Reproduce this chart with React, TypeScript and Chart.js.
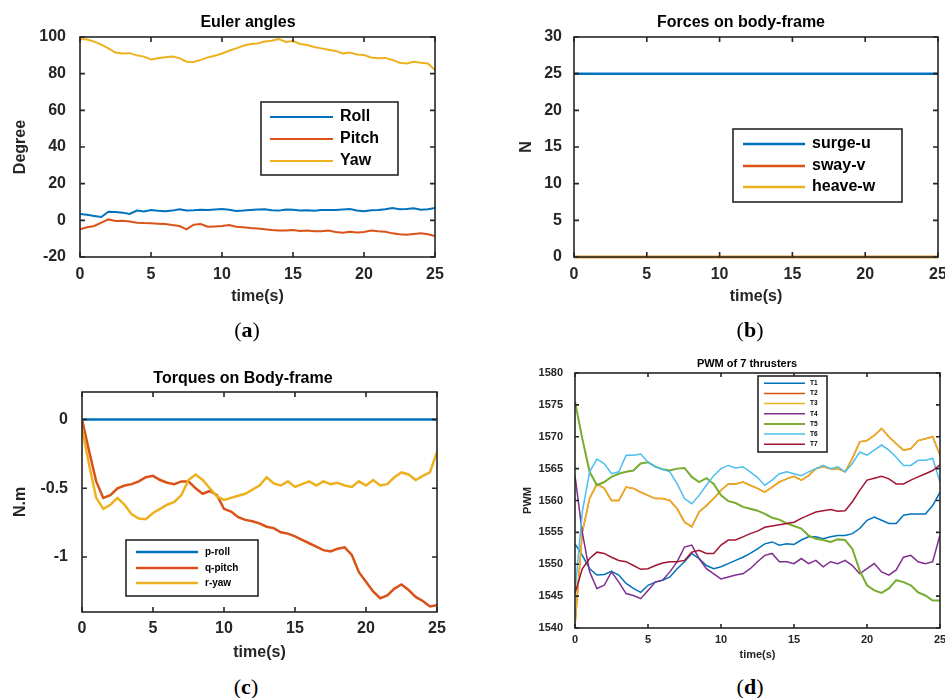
import React, { useEffect, useRef } from "react";
import { Chart, registerables } from "chart.js";
Chart.register(...registerables);

// ---------- data ----------
const TIME = [0, 0.5, 1, 1.5, 2, 2.5, 3, 3.5, 4, 4.5, 5, 5.5, 6, 6.5, 7, 7.5, 8, 8.5, 9, 9.5, 10, 10.5, 11, 11.5, 12, 12.5, 13, 13.5, 14, 14.5, 15, 15.5, 16, 16.5, 17, 17.5, 18, 18.5, 19, 19.5, 20, 20.5, 21, 21.5, 22, 22.5, 23, 23.5, 24, 24.5, 25];
const TIME_ENDS = [0, 25];
const X_TICKS = [0, 5, 10, 15, 20, 25];

// (a) Euler angles
const ROLL = [3.5, 3.0, 2.4, 1.8, 4.7, 4.5, 4.2, 3.5, 5.3, 4.8, 5.6, 5.2, 4.9, 5.3, 6.0, 5.4, 5.5, 5.8, 5.6, 5.9, 6.2, 5.8, 5.1, 5.3, 5.6, 5.9, 6.0, 5.5, 5.3, 5.9, 5.8, 5.4, 5.5, 5.2, 5.6, 5.7, 5.6, 5.9, 6.2, 5.4, 4.9, 5.5, 5.6, 6.1, 6.7, 6.0, 6.2, 6.6, 5.8, 6.0, 6.7];
const PITCH = [-4.9, -3.8, -3.1, -1.3, 0.5, -0.4, -0.2, -0.6, -1.3, -1.5, -1.6, -1.8, -2.0, -2.6, -3.1, -4.9, -2.4, -2.0, -3.5, -3.3, -3.1, -2.6, -3.5, -3.8, -4.2, -4.5, -4.9, -5.3, -5.6, -5.5, -5.3, -5.8, -5.6, -5.9, -6.0, -5.6, -6.4, -6.8, -6.2, -6.6, -6.4, -5.6, -6.0, -6.2, -7.1, -7.6, -7.8, -7.4, -7.1, -7.6, -8.5];
const YAW = [98.9, 98.6, 97.5, 95.8, 93.8, 91.5, 91.0, 91.2, 90.0, 89.3, 87.8, 88.4, 88.9, 89.3, 88.5, 86.5, 86.4, 87.5, 88.9, 89.8, 91.0, 92.5, 93.8, 95.2, 96.2, 96.5, 97.5, 98.0, 98.9, 97.3, 97.8, 96.2, 95.6, 94.5, 93.8, 93.0, 92.4, 91.0, 91.5, 90.5, 90.2, 88.8, 88.4, 88.6, 87.5, 86.0, 85.6, 86.5, 86.0, 85.6, 82.0];
const Y_TICKS_A = [-20, 0, 20, 40, 60, 80, 100];

// (b) Forces
const SURGE_U = [25, 25];
const SWAY_V = [0, 0];
const HEAVE_W = [0, 0];
const Y_TICKS_B = [0, 5, 10, 15, 20, 25, 30];

// (c) Torques
const P_ROLL = [0, 0];
const Q_PITCH = [0, -0.23, -0.45, -0.57, -0.55, -0.5, -0.48, -0.47, -0.45, -0.42, -0.41, -0.44, -0.46, -0.47, -0.45, -0.45, -0.5, -0.54, -0.52, -0.55, -0.65, -0.67, -0.71, -0.73, -0.74, -0.755, -0.78, -0.79, -0.82, -0.83, -0.85, -0.875, -0.9, -0.925, -0.95, -0.96, -0.94, -0.93, -0.985, -1.11, -1.18, -1.25, -1.3, -1.28, -1.23, -1.2, -1.24, -1.29, -1.32, -1.36, -1.35];
const R_YAW = [-0.065, -0.33, -0.57, -0.65, -0.62, -0.57, -0.62, -0.69, -0.72, -0.725, -0.68, -0.65, -0.62, -0.6, -0.55, -0.44, -0.4, -0.44, -0.5, -0.56, -0.585, -0.57, -0.555, -0.54, -0.51, -0.48, -0.42, -0.465, -0.48, -0.45, -0.49, -0.47, -0.45, -0.48, -0.45, -0.47, -0.46, -0.48, -0.49, -0.45, -0.48, -0.44, -0.48, -0.47, -0.42, -0.385, -0.4, -0.44, -0.41, -0.385, -0.235];
const Y_TICKS_C = [-1, -0.5, 0];

// (d) PWM
const T1 = [1553.2, 1551.4, 1549.3, 1548.3, 1548.4, 1548.9, 1548.3, 1547.0, 1546.2, 1545.6, 1546.7, 1547.2, 1547.5, 1548.0, 1549.3, 1550.4, 1551.7, 1550.9, 1549.8, 1549.3, 1549.6, 1550.1, 1550.6, 1551.1, 1551.7, 1552.4, 1553.2, 1553.5, 1553.0, 1553.2, 1553.1, 1553.8, 1554.3, 1554.3, 1554.0, 1554.3, 1554.5, 1554.5, 1554.8, 1555.6, 1556.9, 1557.4, 1556.9, 1556.4, 1556.4, 1557.7, 1557.9, 1557.9, 1557.9, 1559.2, 1561.3];
const T3 = [1540.4, 1555.0, 1560.3, 1562.6, 1561.9, 1560.0, 1560.0, 1562.1, 1561.9, 1561.3, 1560.8, 1560.3, 1560.3, 1560.0, 1558.7, 1556.6, 1555.9, 1558.2, 1559.2, 1560.3, 1561.6, 1562.6, 1562.6, 1562.9, 1562.4, 1561.9, 1561.3, 1562.1, 1562.9, 1563.4, 1563.8, 1563.2, 1563.9, 1565.0, 1565.3, 1565.0, 1565.0, 1564.5, 1566.6, 1569.2, 1569.4, 1570.2, 1571.3, 1570.0, 1568.9, 1567.9, 1568.1, 1569.4, 1569.7, 1570.0, 1567.1];
const T2 = [1540.4, 1555.0, 1560.3, 1562.6, 1561.9, 1560.0, 1560.0, 1562.1, 1561.9, 1561.3, 1560.8, 1560.3, 1560.3, 1560.0, 1558.7, 1556.6, 1555.9, 1558.2, 1559.2, 1560.3, 1561.6, 1562.6, 1562.6, 1562.9, 1562.4, 1561.9, 1561.3, 1562.1, 1562.9, 1563.4, 1563.8, 1563.2, 1563.9, 1565.0, 1565.3, 1565.0, 1565.0, 1564.5, 1566.6, 1569.2, 1569.4, 1570.2, 1571.3, 1570.0, 1568.9, 1567.9, 1568.1, 1569.4, 1569.7, 1570.0, 1567.1];
const T4 = [1563.9, 1555.0, 1548.8, 1546.2, 1546.7, 1548.8, 1547.2, 1545.4, 1545.1, 1544.6, 1545.9, 1547.2, 1547.5, 1548.8, 1550.4, 1552.7, 1553.0, 1550.9, 1549.3, 1548.5, 1547.7, 1548.0, 1548.3, 1548.5, 1549.3, 1550.4, 1551.4, 1551.7, 1550.4, 1550.4, 1550.1, 1550.9, 1550.1, 1550.6, 1549.6, 1550.4, 1550.1, 1550.6, 1549.8, 1548.5, 1549.3, 1550.1, 1548.8, 1548.3, 1549.1, 1551.1, 1551.4, 1550.4, 1550.1, 1550.4, 1554.6];
const T5 = [1575.5, 1569.7, 1564.5, 1562.4, 1562.9, 1563.7, 1564.2, 1564.5, 1564.7, 1565.8, 1566.0, 1565.3, 1564.9, 1564.7, 1565.0, 1565.1, 1563.7, 1562.9, 1563.5, 1562.6, 1560.8, 1559.9, 1559.6, 1559.0, 1558.7, 1558.4, 1557.9, 1557.3, 1557.0, 1556.4, 1556.0, 1555.6, 1554.5, 1554.0, 1553.8, 1553.5, 1553.9, 1553.8, 1552.4, 1549.0, 1546.7, 1545.9, 1545.5, 1546.2, 1547.5, 1547.2, 1546.7, 1545.6, 1545.1, 1544.3, 1544.3];
const T6 = [1545.5, 1558.2, 1564.5, 1566.5, 1565.8, 1564.2, 1564.5, 1567.1, 1567.1, 1567.3, 1566.0, 1565.3, 1564.9, 1564.5, 1562.6, 1560.3, 1559.5, 1560.8, 1562.4, 1563.9, 1565.0, 1565.5, 1565.1, 1565.3, 1564.5, 1563.6, 1562.4, 1563.2, 1564.2, 1564.5, 1564.2, 1563.9, 1564.5, 1565.0, 1565.5, 1565.0, 1565.3, 1564.5, 1565.8, 1567.6, 1567.1, 1567.9, 1568.7, 1567.9, 1566.8, 1565.5, 1565.5, 1566.3, 1566.3, 1566.6, 1562.9];
const T7 = [1545.4, 1549.3, 1550.9, 1551.9, 1551.7, 1551.1, 1550.6, 1550.4, 1549.8, 1549.2, 1549.3, 1549.8, 1550.2, 1550.4, 1550.4, 1550.6, 1551.9, 1552.2, 1551.7, 1551.7, 1553.0, 1553.8, 1553.8, 1554.3, 1554.8, 1555.2, 1555.8, 1556.0, 1556.2, 1556.4, 1556.6, 1557.2, 1557.7, 1558.2, 1558.4, 1558.6, 1558.3, 1558.4, 1559.8, 1561.6, 1563.2, 1563.5, 1563.8, 1563.4, 1562.6, 1562.6, 1563.2, 1563.7, 1564.2, 1564.7, 1565.6];
const Y_TICKS_D = [1540, 1545, 1550, 1555, 1560, 1565, 1570, 1575, 1580];

// ---------- styling ----------
const BLUE = "#0072BD";
const ORANGE = "#D95319";
const YELLOW = "#EDB120";
const PURPLE = "#7E2F8E";
const GREEN = "#77AC30";
const CYAN = "#4DBEEE";
const DARKRED = "#A2142F";
const AXIS = "#262626";
const FONT = '"Liberation Sans", Arial, Helvetica, sans-serif';

type Series = { label: string; x: number[]; y: number[]; color: string; width: number };
type Cfg = {
  box: { x: number; y: number; w: number; h: number };
  area: { l: number; t: number; r: number; b: number };
  title: { text: string; x: number; y: number };
  size: number;
  xTitle: string;
  yTitle: string;
  yMin: number;
  yMax: number;
  yTicks: number[];
  yTickPad: number;
  yTitlePad: number;
  xTickPad: number;
  xTitlePad: number;
  tickLen: number;
  clip: boolean;
  series: Series[];
  legend: { x1: number; y1: number; x2: number; y2: number; lx1: number; lx2: number; tx: number; rows: number[]; size: number; lw: number };
};

const PANELS: Cfg[] = [
  {
    box: { x: 0, y: 0, w: 460, h: 312 },
    area: { l: 80, t: 37, r: 435, b: 257 },
    title: { text: "Euler angles", x: 248, y: 23 },
    size: 16, xTitle: "time(s)", yTitle: "Degree",
    yMin: -20, yMax: 100, yTicks: Y_TICKS_A,
    yTickPad: 14, yTitlePad: 11.4, xTickPad: 8.4, xTitlePad: 5.4, tickLen: 5, clip: true,
    series: [
      { label: "Roll", x: TIME, y: ROLL, color: BLUE, width: 2 },
      { label: "Pitch", x: TIME, y: PITCH, color: ORANGE, width: 2 },
      { label: "Yaw", x: TIME, y: YAW, color: YELLOW, width: 2 },
    ],
    legend: { x1: 261, y1: 102, x2: 398, y2: 175, lx1: 270, lx2: 333, tx: 340, rows: [117, 139, 161], size: 16, lw: 2 },
  },
  {
    box: { x: 480, y: 0, w: 480, h: 312 },
    area: { l: 574, t: 37, r: 938, b: 257 },
    title: { text: "Forces on body-frame", x: 741, y: 23 },
    size: 16, xTitle: "time(s)", yTitle: "N",
    yMin: 0, yMax: 30, yTicks: Y_TICKS_B,
    yTickPad: 12, yTitlePad: 37.4, xTickPad: 8.4, xTitlePad: 5.4, tickLen: 5, clip: false,
    series: [
      { label: "surge-u", x: TIME_ENDS, y: SURGE_U, color: BLUE, width: 2.5 },
      { label: "sway-v", x: TIME_ENDS, y: SWAY_V, color: ORANGE, width: 2.5 },
      { label: "heave-w", x: TIME_ENDS, y: HEAVE_W, color: YELLOW, width: 2.5 },
    ],
    legend: { x1: 733, y1: 129, x2: 902, y2: 202, lx1: 743, lx2: 805, tx: 812, rows: [144, 166, 187], size: 16, lw: 2.5 },
  },
  {
    box: { x: 0, y: 340, w: 460, h: 325 },
    area: { l: 82, t: 392, r: 437, b: 612 },
    title: { text: "Torques on Body-frame", x: 243, y: 379 },
    size: 16, xTitle: "time(s)", yTitle: "N.m",
    yMin: -1.4, yMax: 0.2, yTicks: Y_TICKS_C,
    yTickPad: 14, yTitlePad: 11, xTickPad: 7.4, xTitlePad: 2.4, tickLen: 5, clip: true,
    series: [
      { label: "p-roll", x: TIME_ENDS, y: P_ROLL, color: BLUE, width: 2.5 },
      { label: "q-pitch", x: TIME, y: Q_PITCH, color: ORANGE, width: 2.5 },
      { label: "r-yaw", x: TIME, y: R_YAW, color: YELLOW, width: 2.5 },
    ],
    legend: { x1: 126, y1: 540, x2: 258, y2: 596, lx1: 136, lx2: 198, tx: 205, rows: [552, 568, 583], size: 10, lw: 2.5 },
  },
  {
    box: { x: 480, y: 340, w: 480, h: 325 },
    area: { l: 575, t: 373, r: 940, b: 628 },
    title: { text: "PWM of 7 thrusters", x: 747, y: 364 },
    size: 11, xTitle: "time(s)", yTitle: "PWM",
    yMin: 1540, yMax: 1580, yTicks: Y_TICKS_D,
    yTickPad: 12, yTitlePad: 41.4, xTickPad: 5.4, xTitlePad: 3.4, tickLen: 4, clip: true,
    series: [
      { label: "T1", x: TIME, y: T1, color: BLUE, width: 1.5 },
      { label: "T2", x: TIME, y: T2, color: ORANGE, width: 1.5 },
      { label: "T3", x: TIME, y: T3, color: YELLOW, width: 1.5 },
      { label: "T4", x: TIME, y: T4, color: PURPLE, width: 1.5 },
      { label: "T5", x: TIME, y: T5, color: GREEN, width: 2 },
      { label: "T6", x: TIME, y: T6, color: CYAN, width: 1.5 },
      { label: "T7", x: TIME, y: T7, color: DARKRED, width: 1.5 },
    ],
    legend: { x1: 758, y1: 376, x2: 827, y2: 452, lx1: 764, lx2: 805, tx: 810, rows: [383.3, 393.5, 403.6, 413.8, 424, 434.1, 444.3], size: 6.5, lw: 1.5 },
  },
];

const CAPTIONS = [
  { letter: "a", x: 247, y: 330 },
  { letter: "b", x: 750, y: 330 },
  { letter: "c", x: 246, y: 687 },
  { letter: "d", x: 750, y: 687 },
];

function Panel({ cfg }: { cfg: Cfg }) {
  const ref = useRef<HTMLCanvasElement | null>(null);
  useEffect(() => {
    if (!ref.current) return;
    const { box, area } = cfg;
    const font = { family: FONT, size: cfg.size, weight: "bold" as const };
    const decor = {
      id: "matlabDecor",
      afterDatasetsDraw(chart: any) {
        const ctx = chart.ctx;
        const ca = chart.chartArea;
        const xs = chart.scales.x;
        const ys = chart.scales.y;
        ctx.save();
        // frame + inward ticks
        ctx.strokeStyle = AXIS;
        ctx.lineWidth = 1.6;
        ctx.strokeRect(ca.left, ca.top, ca.right - ca.left, ca.bottom - ca.top);
        ctx.beginPath();
        for (const v of X_TICKS) {
          const px = xs.getPixelForValue(v);
          ctx.moveTo(px, ca.bottom);
          ctx.lineTo(px, ca.bottom - cfg.tickLen);
          ctx.moveTo(px, ca.top);
          ctx.lineTo(px, ca.top + cfg.tickLen);
        }
        for (const v of cfg.yTicks) {
          const py = ys.getPixelForValue(v);
          ctx.moveTo(ca.left, py);
          ctx.lineTo(ca.left + cfg.tickLen, py);
          ctx.moveTo(ca.right, py);
          ctx.lineTo(ca.right - cfg.tickLen, py);
        }
        ctx.stroke();
        // legend
        const lg = cfg.legend;
        const ox = box.x;
        const oy = box.y;
        ctx.fillStyle = "#ffffff";
        ctx.fillRect(lg.x1 - ox, lg.y1 - oy, lg.x2 - lg.x1, lg.y2 - lg.y1);
        ctx.strokeStyle = AXIS;
        ctx.lineWidth = 1.6;
        ctx.strokeRect(lg.x1 - ox, lg.y1 - oy, lg.x2 - lg.x1, lg.y2 - lg.y1);
        ctx.font = `bold ${lg.size}px ${FONT}`;
        ctx.textAlign = "left";
        ctx.textBaseline = "middle";
        cfg.series.forEach((s, i) => {
          const ry = lg.rows[i] - oy;
          ctx.strokeStyle = s.color;
          ctx.lineWidth = s.width > 1.5 && lg.lw < 2 ? 2 : lg.lw;
          ctx.beginPath();
          ctx.moveTo(lg.lx1 - ox, ry);
          ctx.lineTo(lg.lx2 - ox, ry);
          ctx.stroke();
          ctx.fillStyle = "#000000";
          ctx.fillText(s.label, lg.tx - ox, ry);
        });
        // title
        ctx.font = `bold ${cfg.size}px ${FONT}`;
        ctx.textAlign = "center";
        ctx.textBaseline = "middle";
        ctx.fillStyle = "#000000";
        ctx.fillText(cfg.title.text, cfg.title.x - ox, cfg.title.y - oy);
        ctx.restore();
      },
    };
    const n = cfg.series.length;
    const chart = new Chart(ref.current, {
      type: "line",
      data: {
        datasets: cfg.series.map((s, i) => ({
          label: s.label,
          data: s.y.map((v, k) => ({ x: s.x[k], y: v })),
          borderColor: s.color,
          backgroundColor: s.color,
          borderWidth: s.width,
          pointRadius: 0,
          tension: 0,
          fill: false,
          order: n - i,
          clip: cfg.clip ? 0 : 4,
        })),
      },
      options: {
        responsive: false,
        animation: false,
        events: [],
        layout: { padding: { top: area.t - box.y, left: 0, right: box.x + box.w - area.r, bottom: 0 } },
        plugins: { legend: { display: false }, title: { display: false }, tooltip: { enabled: false } },
        scales: {
          x: {
            type: "linear",
            min: 0,
            max: 25,
            grid: { display: false, drawTicks: false, tickLength: 0 },
            border: { display: false },
            ticks: { font, color: AXIS, padding: cfg.xTickPad, autoSkip: false, maxRotation: 0, callback: (v: any) => String(v) },
            title: { display: true, text: cfg.xTitle, font, color: AXIS, padding: { top: 0, bottom: cfg.xTitlePad } },
            afterBuildTicks: (s: any) => { s.ticks = X_TICKS.map((v) => ({ value: v })); },
            afterFit: (s: any) => { s.height = box.y + box.h - area.b; },
          },
          y: {
            type: "linear",
            min: cfg.yMin,
            max: cfg.yMax,
            grid: { display: false, drawTicks: false, tickLength: 0 },
            border: { display: false },
            ticks: { font, color: AXIS, padding: cfg.yTickPad, autoSkip: false, callback: (v: any) => String(v) },
            title: { display: true, text: cfg.yTitle, font, color: AXIS, padding: { top: cfg.yTitlePad, bottom: 0 } },
            afterBuildTicks: (s: any) => { s.ticks = cfg.yTicks.map((v) => ({ value: v })); },
            afterFit: (s: any) => { s.width = area.l - box.x; },
          },
        },
      },
      plugins: [decor],
    } as any);
    return () => chart.destroy();
  }, [cfg]);
  const { box } = cfg;
  return (
    <canvas
      ref={ref}
      width={box.w}
      height={box.h}
      style={{ position: "absolute", left: box.x, top: box.y, width: box.w, height: box.h }}
    />
  );
}

export default function App() {
  return (
    <div style={{ position: "absolute", left: 0, top: 0, width: 945, height: 698, overflow: "hidden", background: "#ffffff" }}>
      {PANELS.map((p, i) => (
        <Panel key={i} cfg={p} />
      ))}
      {CAPTIONS.map((c) => (
        <div
          key={c.letter}
          style={{
            position: "absolute",
            left: c.x - 40,
            top: c.y - 14,
            width: 80,
            height: 28,
            lineHeight: "28px",
            textAlign: "center",
            fontFamily: '"Liberation Serif", "DejaVu Serif", serif',
            fontSize: 22,
            color: "#000",
          }}
        >
          (<b>{c.letter}</b>)
        </div>
      ))}
    </div>
  );
}
